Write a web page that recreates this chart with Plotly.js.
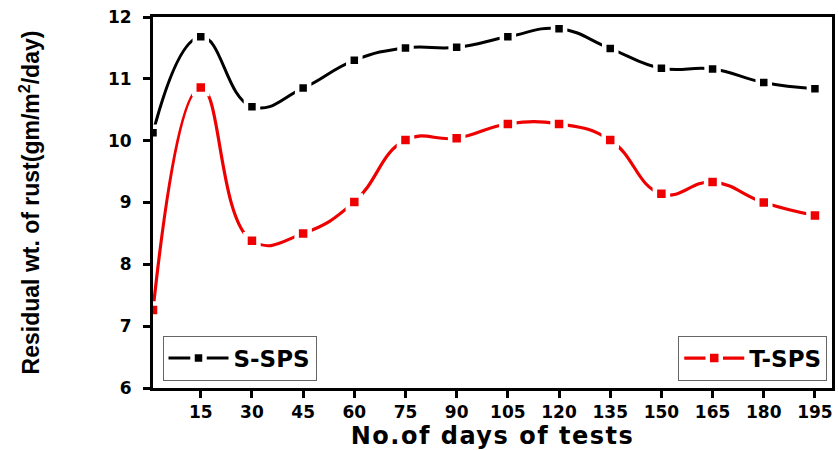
<!DOCTYPE html>
<html>
<head>
<meta charset="utf-8">
<script src="https://cdn.plot.ly/plotly-3.0.1.min.js"></script>
<style>
html,body{margin:0;padding:0;background:#fff;}
#chart{width:838px;height:450px;}
#chart .xtitle{letter-spacing:1.5px;}
</style>
</head>
<body>
<div id="chart"></div>
<script>
const days = [1, 15, 30, 45, 60, 75, 90, 105, 120, 135, 150, 165, 180, 195];
const sSPS = [10.13, 11.68, 10.55, 10.85, 11.30, 11.50, 11.51, 11.68, 11.81, 11.49, 11.17, 11.16, 10.94, 10.84];
const tSPS = [7.26, 10.86, 8.38, 8.50, 9.01, 10.01, 10.04, 10.27, 10.27, 10.01, 9.14, 9.33, 9.00, 8.79];
const xTickVals = [15, 30, 45, 60, 75, 90, 105, 120, 135, 150, 165, 180, 195];
const yTickVals = [6, 7, 8, 9, 10, 11, 12];

const traces = [
  {
    x: days, y: sSPS, name: 'S-SPS', type: 'scatter', mode: 'lines+markers',
    line: {color: '#000000', width: 3, shape: 'spline', smoothing: 1.3},
    marker: {symbol: 'square', size: 12, color: '#000000', line: {color: '#ffffff', width: 4.5}},
    cliponaxis: true, legend: 'legend'
  },
  {
    x: days, y: tSPS, name: 'T-SPS', type: 'scatter', mode: 'lines+markers',
    line: {color: '#ee0000', width: 3.2, shape: 'spline', smoothing: 1.3},
    marker: {symbol: 'square', size: 13, color: '#ee0000', line: {color: '#ffffff', width: 4.5}},
    cliponaxis: true, legend: 'legend2'
  }
];

const fam = '"DejaVu Sans", "Liberation Sans", Arial, sans-serif';
const fontB = {family: fam, color: '#000', size: 17, weight: 'bold'};

const layout = {
  width: 838, height: 450,
  margin: {l: 153, r: 6, t: 17, b: 62},
  paper_bgcolor: '#fff', plot_bgcolor: '#fff',
  showlegend: true,
  xaxis: {
    range: [1, 200], tickvals: xTickVals, ticktext: xTickVals.map(String),
    ticks: 'outside', ticklen: 7, tickwidth: 3, tickcolor: '#000',
    showline: true, linecolor: '#000', linewidth: 3, mirror: true,
    showgrid: false, zeroline: false,
    tickfont: fontB,
    title: {text: 'No.of days of tests', font: {family: fam, size: 24, color: '#000', weight: 'bold'}, standoff: 5}
  },
  yaxis: {
    range: [6, 12], tickvals: yTickVals, ticktext: yTickVals.map(String),
    ticks: 'outside', ticklen: 7, tickwidth: 3, tickcolor: '#000',
    showline: true, linecolor: '#000', linewidth: 3, mirror: true,
    showgrid: false, zeroline: false,
    tickfont: fontB, ticklabelstandoff: 8,
    title: {text: 'Residual wt. of rust(gm/m<sup>2</sup>/day)', font: {family: '"Liberation Sans Narrow", "Liberation Sans", Arial, sans-serif', size: 23, color: '#000', weight: 'bold'}, standoff: 62}
  },
  legend: {
    x: 0.014, y: 0.02, xanchor: 'left', yanchor: 'bottom',
    bgcolor: '#fff', bordercolor: '#666', borderwidth: 1,
    font: {family: fam, size: 23, color: '#000', weight: 'bold'},
    itemwidth: 60, tracegroupgap: 0
  },
  legend2: {
    x: 0.993, y: 0.02, xanchor: 'right', yanchor: 'bottom',
    bgcolor: '#fff', bordercolor: '#666', borderwidth: 1,
    font: {family: fam, size: 23, color: '#000', weight: 'bold'},
    itemwidth: 60, tracegroupgap: 0
  }
};

Plotly.newPlot('chart', traces, layout, {displayModeBar: false, staticPlot: true});
</script>
</body>
</html>
